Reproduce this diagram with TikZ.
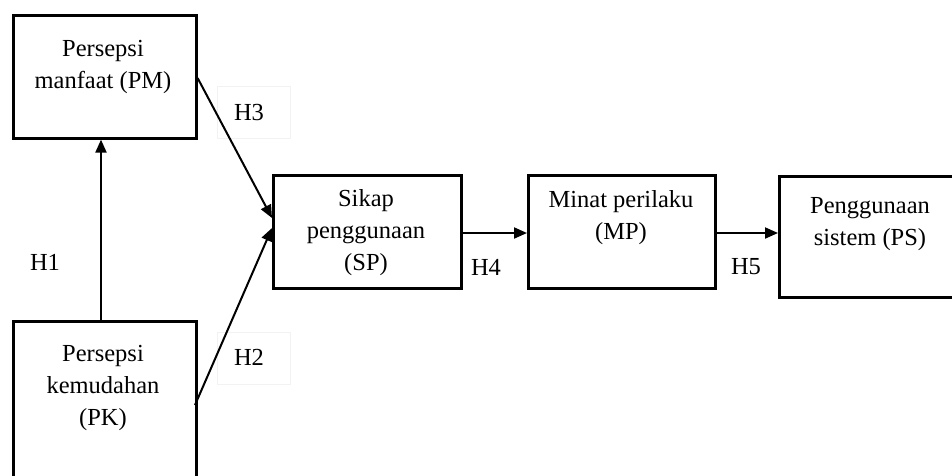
\documentclass[tikz,border=0pt]{standalone}
\usepackage{fontspec}
\setmainfont{Liberation Serif}
\usetikzlibrary{arrows.meta,calc}
\begin{document}
\begin{tikzpicture}[x=1pt,y=-1pt,
  box/.style={draw=black,line width=2.6pt,rectangle,inner sep=0pt,anchor=north west},
  txt/.style={align=center,inner sep=0pt,font=\fontsize{24.5}{32}\selectfont},
  lbl/.style={inner sep=0pt,font=\fontsize{24.5}{28}\selectfont},
  faint/.style={draw=black!5,line width=0.8pt},
  conn/.style={line width=2pt,-{Triangle[length=13pt,width=11pt]}}]
\useasboundingbox[fill=white] (0,0) rectangle (952,475);
% boxes
\node[box,minimum width=183pt,minimum height=123pt] (pm) at (12,14) {};
\node[box,minimum width=183pt,minimum height=180pt] (pk) at (12,320) {};
\node[box,minimum width=188pt,minimum height=113pt] (sp) at (272,174) {};
\node[box,minimum width=187pt,minimum height=113pt] (mp) at (527,174) {};
\node[box,minimum width=200pt,minimum height=121pt] (ps) at (778,175) {};
% texts
\node[txt] (tpm) at (103,67) {Persepsi\\manfaat (PM)};
\node[txt] (tpk) at (103,388) {Persepsi\\kemudahan\\(PK)};
\node[txt] (tsp) at (366,233) {Sikap\\penggunaan\\(SP)};
\node[txt] (tmp) at (621,218) {Minat perilaku\\(MP)};
\node[txt] (tps) at (870,224) {Penggunaan\\sistem (PS)};
% faint label boxes
\node[faint,minimum width=73pt,minimum height=52pt] (fh3) at (254,112) {};
\node[faint,minimum width=73pt,minimum height=52pt] (fh2) at (254,358) {};
% labels
\node[lbl] (h1) at (45,262) {H1};
\node[lbl] (h3) at (249,113) {H3};
\node[lbl] (h2) at (249,357) {H2};
\node[lbl] (h4) at (486,267) {H4};
\node[lbl] (h5) at (746,267) {H5};
% coordinates
\coordinate (pmout) at ($(pm.north east)+(0,64)$);
\coordinate (pkout) at ($(pk.north west)+(183,85)$);
\coordinate (spin1) at ($(sp.north west)+(0,44)$);
\coordinate (spin2) at ($(sp.north west)+(0,54)$);
\coordinate (spout) at ($(sp.north east)+(0,59)$);
\coordinate (mpout) at ($(mp.north east)+(0,59)$);
% connectors
\draw[conn] ($(pk.north west)+(89,0)$) -- ($(pm.south west)+(89,0)$);
\draw[conn] (pmout) -- (spin1);
\draw[conn] (pkout) -- (spin2);
\draw[conn] (spout) -- (spout -| mp.west);
\draw[conn] (mpout) -- (mpout -| ps.west);
\end{tikzpicture}
\end{document}
